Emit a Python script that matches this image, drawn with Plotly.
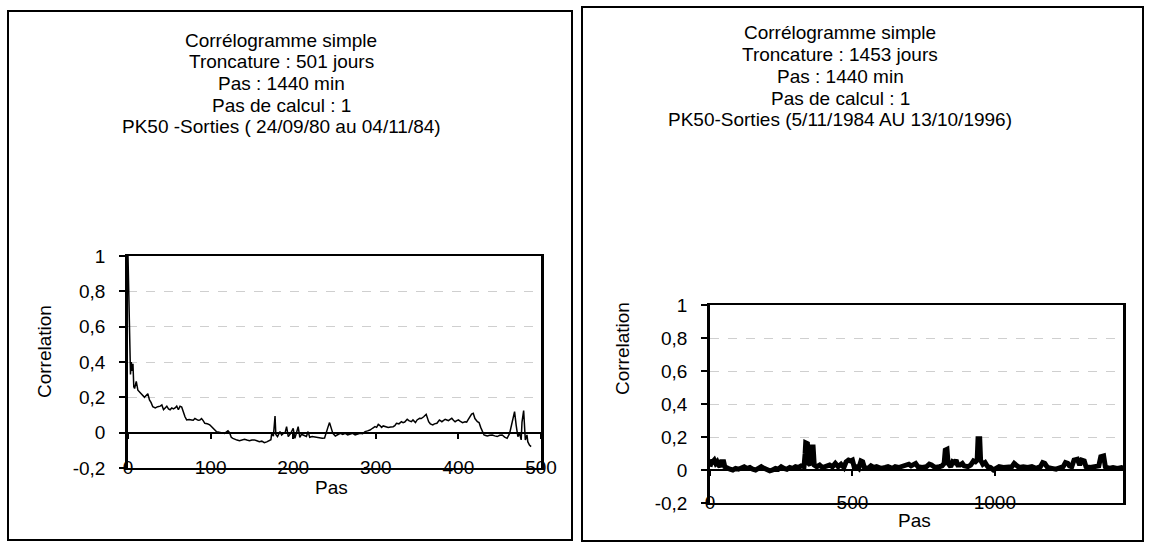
import plotly.graph_objects as go

# --- data ---
lag_left = [0, 1, 2, 3, 4, 5, 6, 7, 8, 10, 12, 14, 16, 18, 20, 22, 24, 26, 28, 30, 33, 36, 39, 41, 43, 45, 47,
            49, 51, 53, 55, 57, 59, 61, 63, 65, 67, 69, 71, 74, 77, 79, 81, 83, 85, 87, 89, 91, 93, 96, 99,
            101, 103, 105, 107, 109, 111, 114, 117, 119, 121, 123, 125, 127, 129, 132, 135, 138, 141, 144,
            147, 150, 153, 156, 159, 162, 165, 168, 171, 173, 174, 176, 178, 179, 181, 184, 186, 188, 190,
            192, 194, 197, 200, 202, 204, 206, 208, 210, 212, 214, 216, 218, 220, 223, 226, 229, 232, 235,
            238, 240, 242, 244, 246, 248, 251, 254, 257, 260, 263, 266, 269, 272, 275, 278, 281, 284, 287,
            290, 293, 296, 299, 301, 303, 305, 307, 309, 312, 315, 318, 321, 323, 325, 328, 331, 333, 335,
            338, 340, 343, 345, 348, 350, 353, 355, 358, 361, 364, 366, 369, 371, 374, 377, 380, 382, 384,
            386, 388, 390, 392, 394, 396, 398, 400, 402, 405, 408, 410, 412, 414, 416, 418, 420, 423, 425,
            427, 429, 431, 433, 435, 438, 441, 444, 447, 450, 453, 456, 459, 462, 465, 468, 470, 472, 474,
            476, 477, 479, 481, 483, 484, 486, 488, 489, 491, 493, 495, 497, 499, 500]
corr_left = [1.0, 0.70, 0.41, 0.33, 0.40, 0.35, 0.39, 0.26, 0.25, 0.29, 0.24, 0.23, 0.22, 0.21, 0.20, 0.21,
             0.22, 0.185, 0.17, 0.147, 0.14, 0.147, 0.15, 0.157, 0.13, 0.14, 0.15, 0.135, 0.13, 0.14,
             0.135, 0.14, 0.15, 0.13, 0.15, 0.145, 0.11, 0.09, 0.072, 0.075, 0.072, 0.07, 0.08, 0.075,
             0.07, 0.072, 0.08, 0.068, 0.053, 0.05, 0.044, 0.035, 0.025, 0.018, 0.006, 0.004, 0.0, -0.002,
             -0.004, 0.004, 0.011, 0.0, -0.026, -0.032, -0.038, -0.042, -0.045, -0.04, -0.038, -0.042,
             -0.045, -0.041, -0.041, -0.046, -0.051, -0.048, -0.057, -0.052, -0.045, -0.04, -0.004,
             -0.02, 0.094, -0.01, -0.022, 0.006, -0.013, -0.004, -0.004, 0.034, -0.022, -0.004, 0.025,
             -0.032, 0.0, 0.034, -0.026, -0.01, -0.013, -0.02, -0.022, 0.006, -0.026, -0.022, -0.025,
             -0.026, -0.028, -0.032, -0.03, 0.006, 0.03, 0.057, 0.02, -0.004, -0.019, -0.012, -0.004,
             -0.01, -0.004, -0.013, -0.008, -0.004, -0.013, -0.01, -0.004, -0.006, 0.006, 0.01, 0.015,
             0.025, 0.034, 0.03, 0.047, 0.04, 0.03, 0.038, 0.034, 0.03, 0.032, 0.034, 0.04, 0.053, 0.05,
             0.062, 0.057, 0.06, 0.076, 0.068, 0.062, 0.072, 0.057, 0.072, 0.081, 0.08, 0.09, 0.104,
             0.062, 0.05, 0.044, 0.05, 0.053, 0.072, 0.062, 0.07, 0.076, 0.072, 0.068, 0.075, 0.081,
             0.07, 0.062, 0.068, 0.072, 0.065, 0.057, 0.062, 0.06, 0.075, 0.094, 0.105, 0.11, 0.08,
             0.062, 0.057, 0.03, 0.006, -0.013, -0.016, -0.019, -0.015, -0.013, -0.018, -0.022, -0.015,
             -0.013, -0.025, -0.032, -0.004, 0.06, 0.119, 0.04, -0.022, -0.004, -0.041, 0.06, 0.125,
             -0.041, -0.013, -0.051, -0.07, -0.079]

lag_right = [0, 5, 10, 15, 20, 25, 30, 35, 40, 48, 52, 60, 70, 80, 90, 100, 110, 120, 130, 140, 150, 160,
             170, 180, 190, 200, 210, 220, 230, 240, 250, 260, 270, 280, 290, 300, 310, 320, 330, 334, 336,
             342, 346, 352, 356, 362, 366, 375, 385, 395, 410, 420, 430, 440, 450, 460, 470, 478, 486, 494,
             500, 506, 515, 522, 530, 536, 542, 555, 565, 575, 585, 600, 615, 625, 640, 650, 662, 675, 690,
             698, 706, 715, 722, 730, 745, 760, 770, 778, 790, 805, 815, 822, 826, 832, 836, 845, 852, 858,
             864, 870, 878, 886, 892, 905, 915, 925, 932, 938, 941, 947, 950, 958, 966, 975, 985, 995, 1005,
             1015, 1030, 1045, 1060, 1068, 1075, 1085, 1100, 1115, 1130, 1145, 1160, 1168, 1175, 1185, 1200,
             1215, 1230, 1240, 1248, 1256, 1262, 1270, 1278, 1290, 1298, 1305, 1314, 1320, 1335, 1350, 1365,
             1372, 1382, 1388, 1400, 1415, 1430, 1445, 1452]
corr_right = [0.02, 0.06, 0.05, 0.06, 0.04, 0.05, 0.03, 0.02, 0.05, 0.05, 0.02, 0.01, 0.005, 0.0, 0.01,
              0.005, 0.015, 0.02, 0.01, 0.015, 0.005, 0.0, 0.01, 0.02, 0.01, 0.0, -0.005, 0.0, 0.01, 0.005,
              0.02, 0.01, 0.005, 0.015, 0.01, 0.02, 0.015, 0.025, 0.02, 0.1, 0.165, 0.16, 0.04, 0.03, 0.14,
              0.14, 0.03, 0.02, 0.03, 0.015, 0.025, 0.03, 0.02, 0.04, 0.02, 0.035, 0.015, 0.05, 0.06, 0.055,
              0.06, 0.02, 0.02, 0.01, 0.055, 0.05, 0.015, 0.01, 0.025, 0.015, 0.02, 0.01, 0.015, 0.02, 0.01,
              0.02, 0.015, 0.02, 0.025, 0.035, 0.025, 0.03, 0.04, 0.02, 0.015, 0.02, 0.035, 0.03, 0.015,
              0.02, 0.025, 0.04, 0.12, 0.125, 0.04, 0.02, 0.05, 0.045, 0.06, 0.03, 0.03, 0.04, 0.025, 0.02,
              0.03, 0.055, 0.05, 0.06, 0.19, 0.19, 0.06, 0.035, 0.045, 0.02, 0.015, 0.0, 0.01, 0.02, 0.015,
              0.02, 0.02, 0.04, 0.03, 0.015, 0.02, 0.015, 0.02, 0.01, 0.02, 0.045, 0.04, 0.015, 0.01, 0.005,
              0.015, 0.02, 0.045, 0.04, 0.025, 0.02, 0.06, 0.065, 0.03, 0.06, 0.055, 0.02, 0.015, 0.02,
              0.025, 0.08, 0.085, 0.02, 0.01, 0.015, 0.01, 0.015, 0.01]

titles_left = ["Corrélogramme simple", "Troncature : 501 jours", "Pas : 1440 min", "Pas de calcul : 1",
               "PK50 -Sorties ( 24/09/80 au 04/11/84)"]
titles_right = ["Corrélogramme simple", "Troncature : 1453 jours", "Pas : 1440 min", "Pas de calcul : 1",
                "PK50-Sorties (5/11/1984 AU 13/10/1996)"]

y_ticks = [-0.2, 0, 0.2, 0.4, 0.6, 0.8, 1]
y_ticktext = ["-0,2", "0", "0,2", "0,4", "0,6", "0,8", "1"]
x_ticks_left = [0, 100, 200, 300, 400, 500]
x_ticks_right = [0, 500, 1000]

W, H = 1149, 549
FONT = "Arial, Liberation Sans, sans-serif"
FS = 19


def fx(px):
    return px / W


def fy(py):
    return 1 - py / H


# plot boxes in pixels: (left, top, right, bottom)
box_l = (128, 256, 541, 468)
box_r = (710, 305, 1123, 503)

fig = go.Figure()
fig.add_trace(go.Scatter(x=lag_left, y=corr_left, mode="lines", line=dict(color="black", width=1.5),
                         xaxis="x", yaxis="y", showlegend=False, hoverinfo="skip"))
fig.add_trace(go.Scatter(x=lag_right, y=corr_right, mode="lines", line=dict(color="black", width=5),
                         xaxis="x2", yaxis="y2", showlegend=False, hoverinfo="skip"))
# invisible copies so the zero-line axes get drawn
fig.add_trace(go.Scatter(x=lag_left, y=corr_left, mode="lines", opacity=0, xaxis="x3", yaxis="y",
                         showlegend=False, hoverinfo="skip"))
fig.add_trace(go.Scatter(x=lag_right, y=corr_right, mode="lines", opacity=0, xaxis="x4", yaxis="y2",
                         showlegend=False, hoverinfo="skip"))


def yax(box, anchor):
    return dict(domain=[fy(box[3]), fy(box[1])], range=[-0.2, 1], tickvals=y_ticks, ticktext=y_ticktext,
                anchor=anchor, showline=True, linecolor="black", linewidth=2.5, mirror=True,
                ticks="outside", ticklen=6, tickwidth=1.5, tickcolor="black", ticklabelstandoff=10,
                showgrid=True, gridcolor="#cfcfcf", griddash="dash", gridwidth=1, zeroline=False,
                tickfont=dict(family=FONT, size=FS, color="black"), fixedrange=True)


def xax(box, rng, ticks, anchor):
    return dict(domain=[fx(box[0]), fx(box[2])], range=rng, tickvals=ticks, showline=True, linecolor="black",
                linewidth=2, mirror=True, ticks="", showgrid=False, zeroline=False, anchor=anchor,
                ticklabelstandoff=-19, tickfont=dict(family=FONT, size=FS, color="black"), fixedrange=True)


def zero_ax(box, rng, ticks, over):
    # axis line drawn at y = 0, carrying the small tick marks
    y0, y1 = fy(box[3]), fy(box[1])
    pos = y0 + (0.2 / 1.2) * (y1 - y0)
    return dict(domain=[fx(box[0]), fx(box[2])], range=rng, tickvals=ticks, overlaying=over, anchor="free",
                position=pos, showline=True, linecolor="black", linewidth=2, ticks="outside", ticklen=5,
                tickwidth=1.5, tickcolor="black", showticklabels=False, showgrid=False, zeroline=False,
                fixedrange=True)


fig.update_layout(
    width=W, height=H,
    margin=dict(l=0, r=0, t=0, b=0, autoexpand=False),
    paper_bgcolor="white", plot_bgcolor="white",
    xaxis=xax(box_l, [0, 500], x_ticks_left, "y"),
    yaxis=yax(box_l, "x"),
    xaxis2=xax(box_r, [0, 1450], x_ticks_right, "y2"),
    yaxis2=yax(box_r, "x2"),
    xaxis3=zero_ax(box_l, [0, 500], x_ticks_left, "x"),
    xaxis4=zero_ax(box_r, [0, 1450], x_ticks_right, "x2"),
    font=dict(family=FONT, size=FS, color="black"),
)

# panel frames
fig.add_shape(type="rect", xref="paper", yref="paper", x0=fx(8), x1=fx(572), y0=fy(540), y1=fy(11),
              line=dict(color="black", width=2))
fig.add_shape(type="rect", xref="paper", yref="paper", x0=fx(582), x1=fx(1143), y0=fy(541), y1=fy(7),
              line=dict(color="black", width=2))

annots = []
for i, t in enumerate(titles_left):
    annots.append(dict(text=t, x=fx(281), y=fy(40 + i * 21.7)))
for i, t in enumerate(titles_right):
    annots.append(dict(text=t, x=fx(840), y=fy(33 + i * 21.7)))
annots += [
    dict(text="Correlation", x=fx(44), y=fy(352), textangle=-90),
    dict(text="Correlation", x=fx(622), y=fy(349), textangle=-90),
    dict(text="Pas", x=fx(331), y=fy(487)),
    dict(text="Pas", x=fx(914), y=fy(520)),
]
for a in annots:
    a.update(xref="paper", yref="paper", showarrow=False, xanchor="center", yanchor="middle")
fig.update_layout(annotations=annots)

fig.write_html("out.html", config={"displayModeBar": False},
               post_script="document.body.style.margin = '0';")
